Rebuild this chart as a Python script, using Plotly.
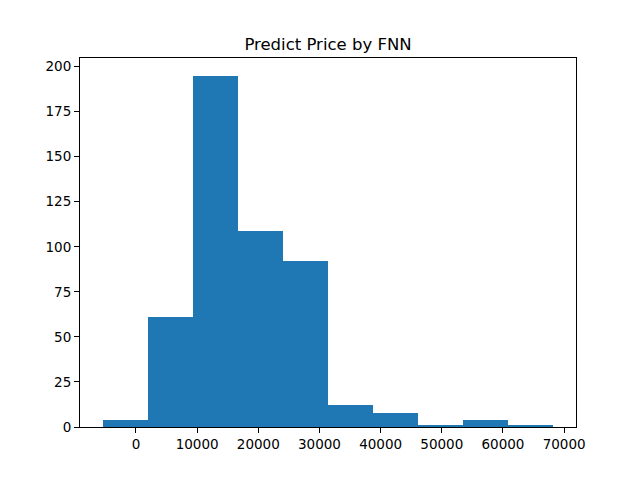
import plotly.graph_objects as go

# histogram of predicted prices (10 bins)
bin_edges = [-5460, 1912, 9284, 16656, 24028, 31400, 38772, 46144, 53516, 60888, 68260]
counts = [4, 61, 195, 109, 92, 12, 8, 1, 4, 1]
x_ticks = [0, 10000, 20000, 30000, 40000, 50000, 60000, 70000]
x_labels = ['0', '10000', '20000', '30000', '40000', '50000', '60000', '70000']
y_ticks = [0, 25, 50, 75, 100, 125, 150, 175, 200]

centers = [(bin_edges[i] + bin_edges[i + 1]) / 2 for i in range(len(counts))]
widths = [bin_edges[i + 1] - bin_edges[i] for i in range(len(counts))]

fig = go.Figure()
fig.add_trace(go.Bar(
    x=centers,
    y=counts,
    width=widths,
    marker=dict(color='#1f77b4', line=dict(width=0)),
    showlegend=False
))

span = bin_edges[-1] - bin_edges[0]
axis_style = dict(
    showgrid=False, zeroline=False, showline=True, mirror=True,
    linecolor='black', linewidth=1, ticks='outside', ticklen=5,
    tickcolor='black', tickfont=dict(size=13.5, color='black')
)

# page body has an 8px margin, so margins are shifted to keep the plot box in place
fig.update_layout(
    width=640, height=480,
    margin=dict(l=72, r=72, t=50, b=61),
    paper_bgcolor='white', plot_bgcolor='white',
    font=dict(family='DejaVu Sans', color='black'),
    title=dict(text='Predict Price by FNN', x=0.5, xref='paper',
               y=1 - 36 / 480, yref='container', yanchor='middle',
               font=dict(size=16.5)),
    bargap=0,
    xaxis=dict(range=[bin_edges[0] - 0.05 * span, bin_edges[-1] + 0.05 * span],
               tickvals=x_ticks, ticktext=x_labels, **axis_style),
    yaxis=dict(range=[0, max(counts) * 1.05], tickvals=y_ticks, **axis_style),
)

fig.write_html("out.html")
